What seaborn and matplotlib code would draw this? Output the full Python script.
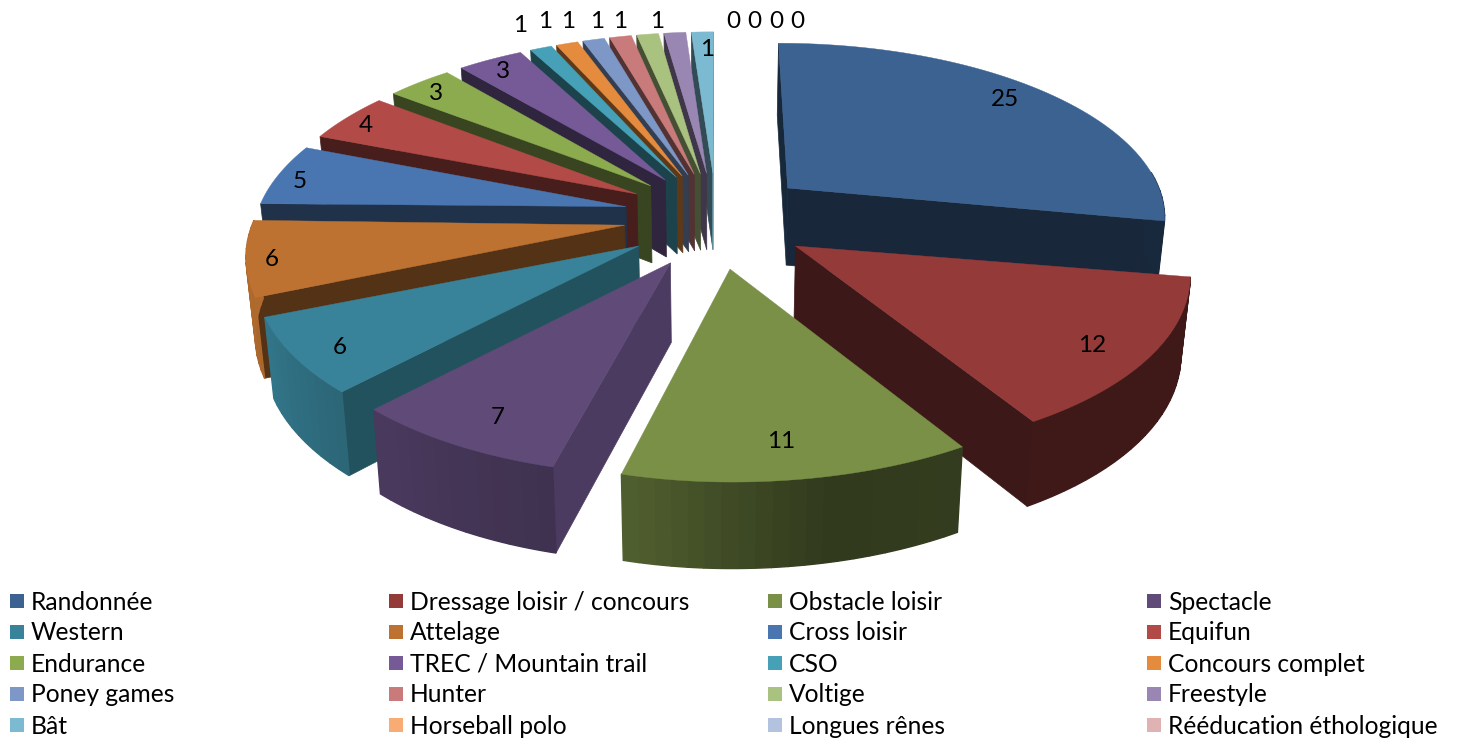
import numpy as np
import matplotlib
matplotlib.use("Agg")
import matplotlib.pyplot as plt
import seaborn as sns

categories = ["Randonnée", "Dressage loisir / concours", "Obstacle loisir", "Spectacle",
              "Western", "Attelage", "Cross loisir", "Equifun",
              "Endurance", "TREC / Mountain trail", "CSO", "Concours complet",
              "Poney games", "Hunter", "Voltige", "Freestyle",
              "Bât", "Horseball polo", "Longues rênes", "Rééducation éthologique"]
values = [25, 12, 11, 7, 6, 6, 5, 4, 3, 3, 1, 1, 1, 1, 1, 1, 1, 0, 0, 0]
colors = ["#3B6291", "#943B3A", "#7A9047", "#5F4A78", "#388399", "#BD7231", "#4976B0", "#B24A47",
          "#8CAB4F", "#765A98", "#45A0B8", "#E58B3E", "#7D98C7", "#C87B7A", "#AAC280", "#9A86B3",
          "#7BBAD0", "#F8AC74", "#B3C2DE", "#DFB3B3"]
# one more zero label than legend entries in the original
top_zero_labels = [0, 0, 0, 0]

label_pos = [(1005, 100), (1092, 346), (781, 442), (498, 418), (340, 348), (272, 260), (300, 182),
             (366, 126), (436, 94), (503, 72), (520, 26), (545, 21), (568, 21), (597, 21), (620, 21),
             (657, 21), (707, 49)]
zero_pos = [(733, 21), (754, 21), (776, 21), (797, 21)]

# projection of the tilted pie
CX, CY = 716, 215
RX, RY = 380, 174
LEFT_SQUEEZE = 0.972
PERSP = 0.15
EXPLODE = 0.25
DEPTH = 78


def project(wx, wy, down=False):
    s = 1 / (1 - PERSP * wy)
    x = RX * np.asarray(wx) * s
    x = np.where(x < 0, x * LEFT_SQUEEZE, x)
    y = CY + RY * wy * s
    if down:
        x = x * 0.98
        y += DEPTH * np.sqrt(s)
    return CX + x, y


def ring(a, mid):
    # a is clockwise from the top, degrees
    a, mid = np.radians(a), np.radians(mid)
    wx = np.sin(a) + EXPLODE * np.sin(mid)
    wy = -np.cos(a) - EXPLODE * np.cos(mid)
    return wx, wy


def shade(color, f):
    r = np.array(matplotlib.colors.to_rgb(color))
    return tuple(r * f)


sns.set_theme(style="white")
plt.rcParams["font.family"] = ["Lato", "DejaVu Sans"]

fig, ax = plt.subplots(figsize=(14.58, 7.42), dpi=100)
fig.subplots_adjust(0, 0, 1, 1)
ax.set_xlim(0, 1458)
ax.set_ylim(742, 0)
ax.axis("off")

ends = np.cumsum(values) / np.sum(values) * 360
starts = ends - np.array(values) / np.sum(values) * 360
mids = (starts + ends) / 2

order = sorted(range(len(values)), key=lambda i: -np.cos(np.radians(mids[i])))

for i in order:
    if values[i] == 0:
        continue
    a0, a1, m, c = starts[i], ends[i], mids[i], colors[i]
    apex_y = -EXPLODE * np.cos(np.radians(m))
    apex_w = (EXPLODE * np.sin(np.radians(m)), apex_y * 1.2 if apex_y > 0 else apex_y)

    # radial walls, only those turned to the viewer
    for ang, normal in [(a0, a0 - 90), (a1, a1 + 90)]:
        if -np.cos(np.radians(normal)) < -0.05:
            continue
        f = np.interp(normal % 360, [104, 133, 157, 181, 191, 240, 300], [.8, .62, .44, .42, .40, .41, .40])
        e = ring(ang, m)
        pts = [project(*apex_w), project(*e), project(*e, down=True), project(*apex_w, down=True)]
        ax.fill(*zip(*pts), color=shade(c, f), lw=0.5)

    # outer wall in strips so it picks up the gradient
    angs = np.linspace(a0, a1, max(3, int(values[i] * 2)))
    for p, q in zip(angs[:-1], angs[1:]):
        n = (p + q) / 2
        if n < 85 or n > 272:
            continue
        f = np.interp(n, [90, 150, 168, 194, 223, 247, 280], [.42, .42, .40, .66, .78, .9, .95])
        t = np.linspace(p, q, 6)
        wx, wy = ring(t, m)
        tx, ty = project(wx, wy)
        bx, by = project(wx, wy, down=True)
        ax.fill(np.r_[tx, bx[::-1]], np.r_[ty, by[::-1]], color=shade(c, f), lw=1.0)

    # top face
    t = np.linspace(a0, a1, 60)
    wx, wy = ring(t, m)
    tx, ty = project(wx, wy)
    ax_, ay_ = project(*apex_w)
    ax.fill(np.r_[ax_, tx], np.r_[ay_, ty], color=c, lw=0.3)

for (x, y), v in zip(label_pos, values):
    ax.text(x, y, str(v), ha="center", va="center", fontsize=17.5, color="black")
for (x, y), v in zip(zero_pos, top_zero_labels):
    ax.text(x, y, str(v), ha="center", va="center", fontsize=17.5, color="black")

# legend grid
col_x = [10, 389, 768, 1147]
row_y = [601, 632, 663, 694, 725]
for i, (name, c) in enumerate(zip(categories, colors)):
    x, y = col_x[i % 4], row_y[i // 4]
    ax.add_patch(plt.Rectangle((x, y - 7), 14.5, 14, color=c, lw=0))
    ax.text(x + 21, y + 1, name, ha="left", va="center", fontsize=17.7, color="black")

fig.savefig("out.png", dpi=100, facecolor="white")
